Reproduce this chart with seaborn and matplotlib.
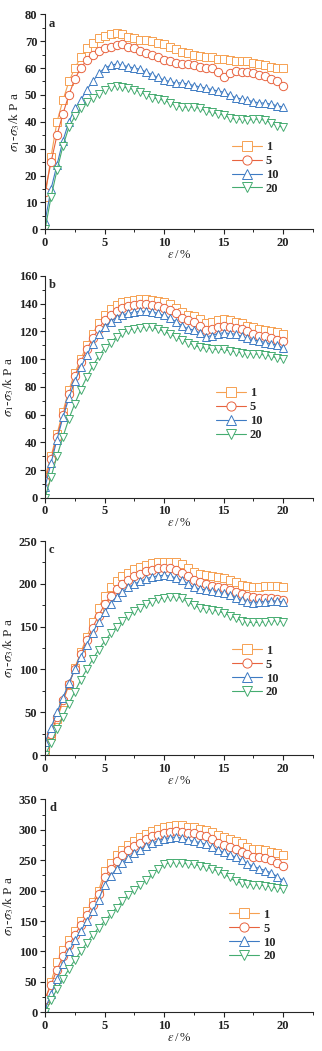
import numpy as np
import pandas as pd
import matplotlib
matplotlib.use("Agg")
import matplotlib.pyplot as plt
from matplotlib.ticker import MultipleLocator
import seaborn as sns

# axial strain (%) at which the deviator stress was logged
strain = np.arange(0, 20.01, 0.5)

series_labels = ["1", "5", "10", "20"]
colors = ["#F6A152", "#E8633F", "#3E7BC3", "#45AC70"]
markers = ["s", "o", "^", "v"]

# panel a: deviator stress (kPa)
a_1 = [12, 27, 40, 48, 55, 60, 64, 67.5, 69.5, 71,
       72, 72.5, 73, 72.5, 71.5, 71, 70.5, 70.5, 70, 69.5,
       69, 68, 67, 66, 65.5, 65, 64.5, 64, 64, 63.5,
       63.5, 63, 62.5, 62.5, 62.5, 62, 61.5, 61, 60.5, 60,
       60]
a_5 = [14, 25, 35, 43, 50, 56, 60, 63, 65, 66.5,
       67.5, 68, 68.5, 69, 68, 67.5, 66.5, 65.5, 65, 64,
       63, 62.5, 62, 61.5, 61.5, 61, 60.5, 60, 60, 58.5,
       56.5, 58, 59, 58.5, 58.5, 58, 57.5, 57, 56, 55,
       53.5]
a_10 = [3, 15, 24, 33, 40, 45, 48, 52, 55, 58,
        60, 61, 61.5, 61, 60.5, 60, 59.5, 58.5, 57.5, 56.5,
        55.5, 55, 54.5, 54.5, 54, 53.5, 53, 52.5, 52, 51.5,
        51, 50, 49, 48.5, 48, 47.5, 47, 47, 46.5, 46,
        45.5]
a_20 = [0, 12, 22, 31, 38, 42, 45, 47.5, 49, 50.5,
        52, 53, 53.5, 53, 52.5, 52, 51, 50, 49, 48.5,
        48, 47, 46, 45.5, 45.5, 45.5, 45, 44, 43.5, 43,
        42.5, 41.5, 41, 41, 40.5, 41, 41, 40.5, 39.5, 38.5,
        38]

# panel b
b_1 = [15, 30, 46, 62, 78, 90, 100, 110, 118, 126,
       132, 136, 139, 141, 142, 143, 143.5, 143.5, 143, 142,
       141, 139.5, 137, 134, 132, 131, 129, 126, 127, 128,
       129, 128, 127, 126, 124, 123, 122, 121, 120, 119.5,
       118]
b_5 = [12, 28, 44, 60, 75, 88, 98, 107, 115, 122,
       128, 132, 135, 137, 138.5, 139, 139.5, 139.5, 139, 138,
       137, 135.5, 133, 130, 128, 126.5, 124, 121, 122, 123.5,
       124, 123.5, 122.5, 121.5, 120, 118.5, 117, 116.5, 115.5, 114,
       113]
b_10 = [8, 25, 42, 58, 72, 84, 94, 103, 111, 118,
        123, 127, 130, 132, 133, 134, 134.5, 134.5, 134, 133,
        131.5, 129.5, 127, 124, 122, 121, 119, 116, 117, 118.5,
        119, 118.5, 118, 116.5, 115, 114, 113, 112, 111, 110,
        108]
b_20 = [0, 15, 30, 44, 57, 68, 78, 87, 95, 102,
        108, 112, 116, 119, 121, 122, 122.5, 123.5, 123, 121.5,
        120, 118, 116, 114, 112, 110, 108.5, 108, 107.5, 107,
        107, 106, 105.5, 104.5, 104, 104, 103.5, 103, 102, 101,
        100]

# panel c
c_1 = [5, 22, 42, 62, 82, 102, 120, 138, 155, 172,
       186, 196, 203, 209, 213, 217, 220, 222, 224, 225,
       226, 226, 225, 223, 219, 214, 211, 210, 209, 208,
       207, 205, 202, 199, 197, 196, 196, 197, 197, 197,
       196]
c_5 = [8, 25, 45, 64, 83, 101, 118, 134, 149, 163,
       176, 186, 194, 200, 205, 209, 212, 214.5, 216.5, 218,
       218.5, 218, 216, 213, 209, 205, 202, 200, 198, 196,
       195, 193, 191, 188, 186, 185, 184, 183, 183, 182,
       181]
c_10 = [15, 32, 50, 67, 84, 100, 115, 129, 143, 156,
        167, 177, 185, 191, 196, 200, 203, 206, 208, 209.5,
        210, 209, 207, 204, 200, 196, 194, 193, 192, 190,
        189, 187, 184, 181, 179, 178, 179, 179, 180, 180,
        179]
c_20 = [0, 14, 30, 45, 60, 74, 88, 100, 112, 123,
        133, 142, 150, 157, 163, 168, 172, 176, 179, 182,
        184, 185, 185, 183, 179, 175, 172, 171, 170, 168,
        166, 163, 160, 157, 155, 155, 155, 156, 157, 157,
        156]

# panel d
d_1 = [20, 50, 82, 102, 118, 134, 150, 166, 182, 200,
       232, 246, 258, 267, 275, 282, 288, 293, 298, 301,
       304, 306, 308, 307, 305, 304, 302, 300, 296, 292,
       288, 285, 282, 278, 272, 269, 268, 266, 264, 262,
       259]
d_5 = [22, 45, 70, 92, 110, 127, 143, 160, 177, 195,
       222, 236, 248, 258, 266, 273, 279, 284, 289, 292,
       295, 297, 298, 297, 295, 294, 292, 289, 284, 279,
       275, 271, 268, 264, 260, 256, 255, 253, 250, 246,
       240]
d_10 = [5, 30, 55, 80, 100, 118, 134, 150, 166, 185,
        210, 224, 236, 246, 254, 261, 267, 273, 278, 282,
        285, 287, 288, 286, 283, 281, 279, 276, 271, 267,
        263, 259, 255, 250, 244, 240, 236, 233, 229, 223,
        216]
d_20 = [0, 20, 38, 55, 71, 86, 100, 114, 127, 139,
        150, 161, 172, 183, 193, 201, 209, 218, 227, 236,
        243, 246, 246, 245, 244, 243, 241, 239, 236, 232,
        227, 222, 215, 212, 211, 210, 209, 208, 206, 204,
        203]

# letter, series, y max, y step, legend anchor (x, y centre)
panels = [
    ("a", [a_1, a_5, a_10, a_20], 80, 10, (0.675, 0.285)),
    ("b", [b_1, b_5, b_10, b_20], 160, 20, (0.615, 0.377)),
    ("c", [c_1, c_5, c_10, c_20], 250, 50, (0.675, 0.390)),
    ("d", [d_1, d_5, d_10, d_20], 350, 50, (0.665, 0.360)),
]

# axes boxes in figure fractions: left, bottom, width, height
boxes = [
    (0.140, 0.7818, 0.832, 0.2046),
    (0.140, 0.5264, 0.832, 0.2110),
    (0.140, 0.2816, 0.832, 0.2036),
    (0.140, 0.0368, 0.832, 0.2027),
]

sns.set_style("ticks")
plt.rcParams["font.family"] = ["Liberation Serif", "DejaVu Serif"]
plt.rcParams["mathtext.fontset"] = "stix"
plt.rcParams["axes.linewidth"] = 0.8

fig = plt.figure(figsize=(3.22, 10.51), dpi=100)
fig.patch.set_facecolor("white")

for (letter, series, ymax, ystep, anchor), box in zip(panels, boxes):
    ax = fig.add_axes(box)
    for lab, vals, col, mk in zip(series_labels, series, colors, markers):
        df = pd.DataFrame({"strain": strain, "stress": vals})
        sns.lineplot(data=df, x="strain", y="stress", ax=ax, color=col,
                     marker=mk, markersize=6.0, markerfacecolor="white",
                     markeredgecolor=col, markeredgewidth=0.7,
                     linewidth=0.8, label=lab, estimator=None, sort=False)
    ax.set_xlim(0, 22.5)
    ax.set_ylim(0, ymax)
    ax.xaxis.set_major_locator(MultipleLocator(5))
    ax.xaxis.set_minor_locator(MultipleLocator(2.5))
    ax.yaxis.set_major_locator(MultipleLocator(ystep))
    ax.yaxis.set_minor_locator(MultipleLocator(ystep / 2))
    ax.tick_params(which="major", direction="out", length=3.5, width=0.8,
                   pad=2, labelsize=9, colors="#222222")
    ax.tick_params(which="minor", direction="out", length=2, width=0.7)
    for t in ax.get_xticklabels() + ax.get_yticklabels():
        t.set_fontweight("bold")
    sns.despine(ax=ax)
    ax.set_xlabel(r"$\varepsilon\,$/$\,$%", fontsize=9, labelpad=0)
    ax.set_ylabel(r"$\sigma_1$-$\sigma_3$/k P a", fontsize=9.5, labelpad=2)
    ax.text(0.015, 0.985, letter, transform=ax.transAxes, ha="left",
            va="top", fontsize=9, fontweight="bold")
    leg = ax.legend(loc="center left", bbox_to_anchor=anchor,
                    frameon=False, handlelength=2.4, handletextpad=0.3,
                    labelspacing=0.15, borderpad=0, fontsize=9,
                    markerscale=1.1)
    for t in leg.get_texts():
        t.set_fontweight("bold")

fig.savefig("out.png", dpi=100, facecolor="white")
